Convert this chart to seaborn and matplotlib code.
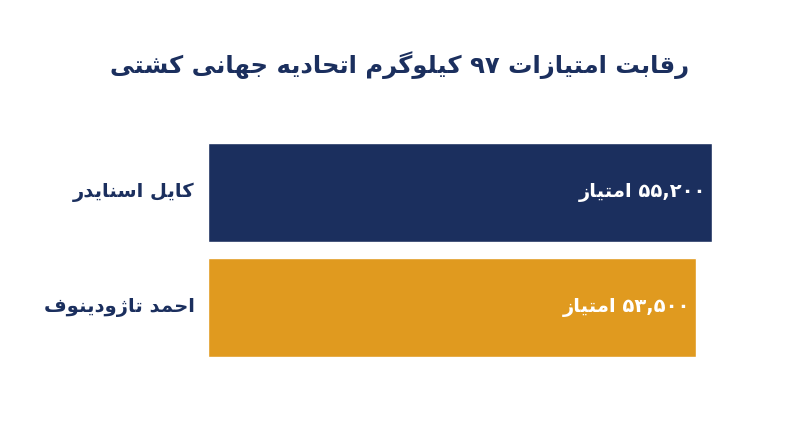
import matplotlib
matplotlib.use("Agg")
import matplotlib.pyplot as plt
import seaborn as sns
import pandas as pd

names = ["کایل اسنایدر", "احمد تاژودینوف"]
values = [55200, 53500]
value_labels = ["۵۵,۲۰۰ امتیاز", "۵۳,۵۰۰ امتیاز"]
title = "رقابت امتیازات ۹۷ کیلوگرم اتحادیه جهانی کشتی"
colors = ["#1b2f5e", "#e09a1f"]

F4 = {  # iso, fin, ini, med
    'ب': (0xFE8F, 0xFE90, 0xFE91, 0xFE92), 'ت': (0xFE95, 0xFE96, 0xFE97, 0xFE98),
    'ج': (0xFE9D, 0xFE9E, 0xFE9F, 0xFEA0), 'ح': (0xFEA1, 0xFEA2, 0xFEA3, 0xFEA4),
    'س': (0xFEB1, 0xFEB2, 0xFEB3, 0xFEB4), 'ش': (0xFEB5, 0xFEB6, 0xFEB7, 0xFEB8),
    'ف': (0xFED1, 0xFED2, 0xFED3, 0xFED4), 'ق': (0xFED5, 0xFED6, 0xFED7, 0xFED8),
    'ل': (0xFEDD, 0xFEDE, 0xFEDF, 0xFEE0), 'م': (0xFEE1, 0xFEE2, 0xFEE3, 0xFEE4),
    'ن': (0xFEE5, 0xFEE6, 0xFEE7, 0xFEE8), 'ه': (0xFEE9, 0xFEEA, 0xFEEB, 0xFEEC),
    'ی': (0xFBFC, 0xFBFD, 0xFBFE, 0xFBFF), 'ک': (0xFB8E, 0xFB8F, 0xFB90, 0xFB91),
    'گ': (0xFB92, 0xFB93, 0xFB94, 0xFB95),
}
F2 = {'ا': (0xFE8D, 0xFE8E), 'د': (0xFEA9, 0xFEAA), 'ر': (0xFEAD, 0xFEAE),
      'ز': (0xFEAF, 0xFEB0), 'و': (0xFEED, 0xFEEE), 'ژ': (0xFB8A, 0xFB8B)}

def shape(s):
    out = []
    for i, c in enumerate(s):
        if c not in F4 and c not in F2:
            out.append(c); continue
        prev = s[i-1] if i > 0 else ''
        nxt = s[i+1] if i+1 < len(s) else ''
        jp = prev in F4
        jn = c in F4 and (nxt in F4 or nxt in F2)
        if c in F2:
            out.append(chr(F2[c][1] if jp else F2[c][0])); continue
        f = F4[c]
        idx = 3 if (jp and jn) else 1 if jp else 2 if jn else 0
        out.append(chr(f[idx]))
    res, run = [], ''
    for ch in reversed(out):
        if ch in '۰۱۲۳۴۵۶۷۸۹,0123456789':
            run = ch + run
        else:
            if run: res.append(run); run = ''
            res.append(ch)
    if run: res.append(run)
    return ''.join(res)

sns.set_theme(style="white")
plt.rcParams['font.family'] = ['DejaVu Sans']

df = pd.DataFrame({"name": names, "value": values})
fig = plt.figure(figsize=(8, 4.47), dpi=100)
ax = fig.add_axes([0.26, 0.201, 0.63, 0.485])
sns.barplot(data=df, x="value", y="name", hue="name", palette=colors,
            legend=False, ax=ax, width=0.86, orient="h", saturation=1)
ax.set_xlim(0, 55200)
ax.set_ylim(1.43, -0.45)
for sp in ax.spines.values():
    sp.set_visible(False)
ax.set_xticks([]); ax.set_yticks([])
ax.set_xlabel(""); ax.set_ylabel("")
for i, (v, lab, n) in enumerate(zip(values, value_labels, names)):
    ax.text(v - 650, i, shape(lab), ha="right", va="center", color="white",
            fontsize=14, fontweight="bold")
    ax.text(-0.027, i, shape(n), transform=ax.get_yaxis_transform(), ha="right",
            va="center", color="#1b2f5e", fontsize=14, fontweight="bold")
fig.text(0.5, 0.855, shape(title), ha="center", va="center", color="#1b2f5e",
         fontsize=17.5, fontweight="bold")
fig.savefig("out.png", dpi=100, facecolor="white")
